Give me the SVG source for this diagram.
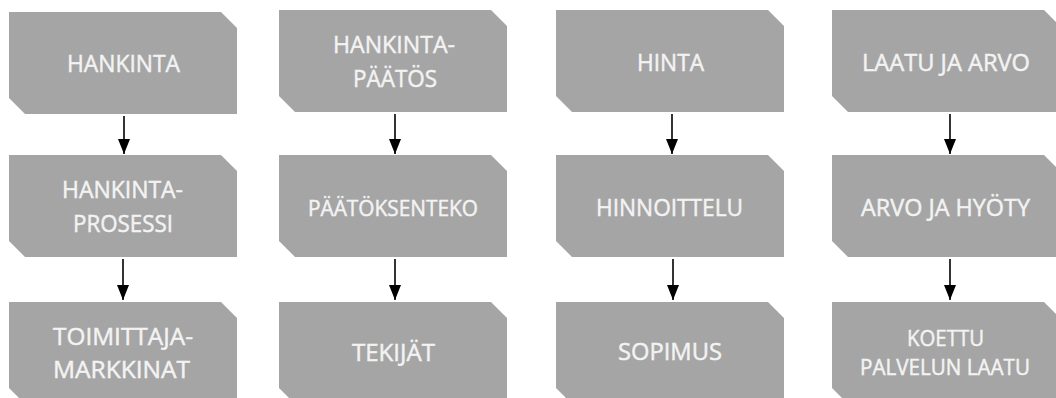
<svg xmlns="http://www.w3.org/2000/svg" width="1056" height="398" viewBox="0 0 1056 398">
  <style>
    .box { fill: #a5a5a5; }
    .lbl { font-family: "Open Sans", "Noto Sans", sans-serif; fill: #f3f3f3; stroke: #f3f3f3; stroke-width: 0.45; text-anchor: middle; font-size: 23.5px; font-weight: 400; }
    .sm { font-size: 21.5px; }
    .conn line { stroke: #000; stroke-width: 1.6; marker-end: url(#arr); }
  </style>
  <defs>
    <marker id="arr" markerUnits="userSpaceOnUse" markerWidth="15" markerHeight="12" refX="15" refY="6" orient="auto" viewBox="0 0 15 12">
      <path d="M0,0 L15,6 L0,12 z" fill="#000"/>
    </marker>
  </defs>
  <rect width="1056" height="398" fill="#fff"/>

  <!-- Column 1 -->
  <g id="hankinta">
    <polygon class="box" points="9,12 221,12 237,28 237,114 25,114 9,98"/>
    <text class="lbl" x="123.5" y="72" textLength="113" lengthAdjust="spacingAndGlyphs">HANKINTA</text>
  </g>
  <g id="hankintaprosessi">
    <polygon class="box" points="9,155 221,155 237,171 237,257 25,257 9,241"/>
    <text class="lbl" x="122.5" y="198" textLength="121" lengthAdjust="spacingAndGlyphs">HANKINTA-</text>
    <text class="lbl" x="123" y="232" textLength="100" lengthAdjust="spacingAndGlyphs">PROSESSI</text>
  </g>
  <g id="toimittajamarkkinat">
    <polygon class="box" points="9,302 221,302 237,318 237,404 25,404 9,388"/>
    <text class="lbl" x="123" y="345" textLength="140" lengthAdjust="spacingAndGlyphs">TOIMITTAJA-</text>
    <text class="lbl" x="121.5" y="378" textLength="137" lengthAdjust="spacingAndGlyphs">MARKKINAT</text>
  </g>

  <!-- Column 2 -->
  <g id="hankintapaatos">
    <polygon class="box" points="279,10 491,10 507,26 507,112 295,112 279,96"/>
    <text class="lbl" x="394" y="53" textLength="122" lengthAdjust="spacingAndGlyphs">HANKINTA-</text>
    <text class="lbl" x="395" y="87" textLength="84" lengthAdjust="spacingAndGlyphs">PÄÄTÖS</text>
  </g>
  <g id="paatoksenteko">
    <polygon class="box" points="279,155 491,155 507,171 507,257 295,257 279,241"/>
    <text class="lbl sm" x="393" y="216" textLength="170" lengthAdjust="spacingAndGlyphs">PÄÄTÖKSENTEKO</text>
  </g>
  <g id="tekijat">
    <polygon class="box" points="279,302 491,302 507,318 507,404 295,404 279,388"/>
    <text class="lbl" x="393.5" y="361" textLength="83" lengthAdjust="spacingAndGlyphs">TEKIJÄT</text>
  </g>

  <!-- Column 3 -->
  <g id="hinta">
    <polygon class="box" points="556,10 768,10 784,26 784,112 572,112 556,96"/>
    <text class="lbl" x="670.5" y="71" textLength="67" lengthAdjust="spacingAndGlyphs">HINTA</text>
  </g>
  <g id="hinnoittelu">
    <polygon class="box" points="556,155 768,155 784,171 784,257 572,257 556,241"/>
    <text class="lbl" x="669.5" y="216" textLength="147" lengthAdjust="spacingAndGlyphs">HINNOITTELU</text>
  </g>
  <g id="sopimus">
    <polygon class="box" points="556,302 768,302 784,318 784,404 572,404 556,388"/>
    <text class="lbl" x="670" y="360" textLength="104" lengthAdjust="spacingAndGlyphs">SOPIMUS</text>
  </g>

  <!-- Column 4 -->
  <g id="laatujaarvo">
    <polygon class="box" points="832,10 1044,10 1060,26 1060,112 848,112 832,96"/>
    <text class="lbl" x="946" y="71" textLength="168" lengthAdjust="spacingAndGlyphs">LAATU JA ARVO</text>
  </g>
  <g id="arvojahyoty">
    <polygon class="box" points="832,155 1044,155 1060,171 1060,257 848,257 832,241"/>
    <text class="lbl" x="945.5" y="216" textLength="169" lengthAdjust="spacingAndGlyphs">ARVO JA HYÖTY</text>
  </g>
  <g id="koettupalvelunlaatu">
    <polygon class="box" points="832,302 1044,302 1060,318 1060,404 848,404 832,388"/>
    <text class="lbl sm" x="945.5" y="346" textLength="77" lengthAdjust="spacingAndGlyphs">KOETTU</text>
    <text class="lbl sm" x="945" y="375" textLength="170" lengthAdjust="spacingAndGlyphs">PALVELUN LAATU</text>
  </g>

  <g id="connectors" class="conn">
    <line x1="124" y1="116" x2="124" y2="154"/>
    <line x1="123" y1="259" x2="123" y2="300"/>
    <line x1="395" y1="114" x2="395" y2="154"/>
    <line x1="395" y1="259" x2="395" y2="300"/>
    <line x1="672" y1="114" x2="672" y2="154"/>
    <line x1="673" y1="259" x2="673" y2="300"/>
    <line x1="950" y1="114" x2="950" y2="154"/>
    <line x1="950" y1="259" x2="950" y2="300"/>
  </g>
</svg>
